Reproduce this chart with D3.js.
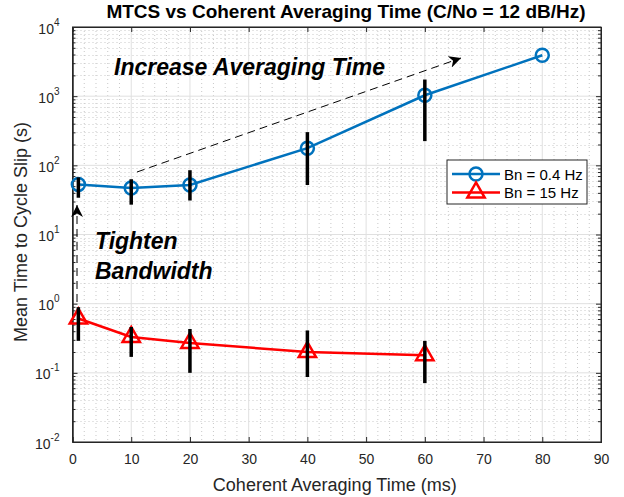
<!DOCTYPE html>
<html>
<head>
<meta charset="utf-8">
<script src="https://cdn.jsdelivr.net/npm/d3@7"></script>
<style>
  body { margin: 0; background: #fff; }
  text { font-family: "Liberation Sans", Arial, sans-serif; }
</style>
</head>
<body>
<script>
    // chart data
    var xTimes = [1, 10, 20, 40, 60, 80];
    var blueMean = [53, 47, 52, 177, 1030, 3900];
    var blueLow = [34, 27, 31, 52, 224, null];
    var blueHigh = [67, 63, 85, 302, 1740, null];

    var redTimes = [1, 10, 20, 40, 60];
    var redMean = [0.61, 0.33, 0.27, 0.20, 0.18];
    var redLow = [0.29, 0.17, 0.10, 0.087, 0.071];
    var redHigh = [0.89, 0.46, 0.43, 0.41, 0.29];

    var xTicks = [0, 10, 20, 30, 40, 50, 60, 70, 80, 90];
    var yExps = [-2, -1, 0, 1, 2, 3, 4];
    var legendNames = ['Bn = 0.4 Hz', 'Bn = 15 Hz'];

    var width = 624;
    var height = 497;
    // plot box edges (window.top is reserved, so pTop etc.)
    var pLeft = 72.5, pRight = 601, pTop = 27, pBottom = 442;
    var axisColor = '#262626';

    var svg = d3.select('body').append('svg')
        .attr('width', width)
        .attr('height', height);

    var xScale = d3.scaleLinear().domain([0, 90]).range([pLeft, pRight]);
    var yScale = d3.scaleLog().domain([1e-2, 1e4]).range([pBottom, pTop]);

    // minor grid (dotted)
    var minorX = d3.range(0, 91, 2).filter(d => d % 10 != 0);
    var minorY = [];
    yExps.slice(0, -1).forEach(e => {
        for (var k = 2; k <= 9; k++) minorY.push(k * Math.pow(10, e));
    });

    var grid = svg.append('g');
    grid.selectAll('.mx').data(minorX).enter().append('line')
        .attr('x1', d => xScale(d)).attr('x2', d => xScale(d))
        .attr('y1', pTop).attr('y2', pBottom)
        .attr('stroke', '#c8c8c8').attr('stroke-width', 1)
        .attr('stroke-dasharray', '1,3');
    grid.selectAll('.my').data(minorY).enter().append('line')
        .attr('x1', pLeft).attr('x2', pRight)
        .attr('y1', d => Math.round(yScale(d)) + 0.5).attr('y2', d => Math.round(yScale(d)) + 0.5)
        .attr('stroke', '#c8c8c8').attr('stroke-width', 1)
        .attr('stroke-dasharray', '1,3');

    // major grid
    grid.selectAll('.gx').data(xTicks).enter().append('line')
        .attr('x1', d => xScale(d)).attr('x2', d => xScale(d))
        .attr('y1', pTop).attr('y2', pBottom)
        .attr('stroke', '#e0e0e0').attr('stroke-width', 1);
    grid.selectAll('.gy').data(yExps).enter().append('line')
        .attr('x1', pLeft).attr('x2', pRight)
        .attr('y1', d => yScale(Math.pow(10, d))).attr('y2', d => yScale(Math.pow(10, d)))
        .attr('stroke', '#e0e0e0').attr('stroke-width', 1);

    // axes
    var xAxis = d3.axisBottom(xScale).tickValues(xTicks).tickSize(-5).tickPadding(12);
    var gx = svg.append('g')
        .attr('transform', 'translate(0,' + pBottom + ')')
        .call(xAxis);
    gx.selectAll('text').attr('font-size', 14).attr('fill', axisColor)
        .style('font-family', '"Liberation Sans", Arial, sans-serif');

    svg.append('g')
        .attr('transform', 'translate(0,' + pTop + ')')
        .call(d3.axisTop(xScale).tickValues(xTicks).tickSize(-5).tickFormat(''));

    var yMajor = yExps.map(e => Math.pow(10, e));
    var gy = svg.append('g')
        .attr('transform', 'translate(' + pLeft + ',0)')
        .call(d3.axisLeft(yScale).tickValues(yMajor).tickSize(-5).tickPadding(8).tickFormat(''));
    gy.selectAll('.tick').each(function(d) {
        var t = d3.select(this).append('text')
            .attr('x', -13).attr('y', 6)
            .attr('text-anchor', 'end')
            .attr('fill', axisColor)
            .attr('font-size', 14);
        t.append('tspan').text('10');
        t.append('tspan').attr('dy', -8).attr('font-size', 10).text(Math.round(Math.log10(d)));
    });
    svg.append('g')
        .attr('transform', 'translate(' + pLeft + ',0)')
        .call(d3.axisLeft(yScale).tickValues(minorY).tickSize(-3).tickFormat(''));

    svg.append('g')
        .attr('transform', 'translate(' + pRight + ',0)')
        .call(d3.axisRight(yScale).tickValues(yMajor).tickSize(-5).tickFormat(''));
    svg.append('g')
        .attr('transform', 'translate(' + pRight + ',0)')
        .call(d3.axisRight(yScale).tickValues(minorY).tickSize(-3).tickFormat(''));

    svg.selectAll('.domain').attr('stroke', axisColor);
    svg.selectAll('.tick line').attr('stroke', axisColor);

    // box outline
    svg.append('rect')
        .attr('x', pLeft).attr('y', pTop)
        .attr('width', pRight - pLeft).attr('height', pBottom - pTop)
        .attr('fill', 'none').attr('stroke', axisColor).attr('stroke-width', 1);

    // series lines
    var line = d3.line().x(d => xScale(d[0])).y(d => yScale(d[1]));
    var blueData = xTimes.map((x, i) => [x, blueMean[i]]);
    var redData = redTimes.map((x, i) => [x, redMean[i]]);

    svg.append('path').datum(blueData).attr('d', line)
        .attr('fill', 'none').attr('stroke', '#0072BD').attr('stroke-width', 2.5);
    svg.append('path').datum(redData).attr('d', line)
        .attr('fill', 'none').attr('stroke', '#FF0000').attr('stroke-width', 2.5);

    // markers
    svg.selectAll('.bm').data(blueData).enter().append('circle')
        .attr('cx', d => xScale(d[0])).attr('cy', d => yScale(d[1]))
        .attr('r', 6.5).attr('fill', 'none')
        .attr('stroke', '#0072BD').attr('stroke-width', 2.5);

    var tri = d3.symbol().type(d3.symbolTriangle).size(130);
    svg.selectAll('.rm').data(redData).enter().append('path')
        .attr('d', tri)
        .attr('transform', d => 'translate(' + xScale(d[0]) + ',' + yScale(d[1]) + ')')
        .attr('fill', 'none').attr('stroke', '#FF0000').attr('stroke-width', 2.5);

    // error bars
    var bars = [];
    xTimes.forEach((x, i) => { if (blueLow[i] != null) bars.push([x, blueLow[i], blueHigh[i]]); });
    redTimes.forEach((x, i) => bars.push([x, redLow[i], redHigh[i]]));
    svg.selectAll('.eb').data(bars).enter().append('line')
        .attr('x1', d => xScale(d[0])).attr('x2', d => xScale(d[0]))
        .attr('y1', d => yScale(d[1])).attr('y2', d => yScale(d[2]))
        .attr('stroke', '#000').attr('stroke-width', 3.5);

    // annotations
    svg.append('defs').append('marker')
        .attr('id', 'arrow')
        .attr('viewBox', '0 0 10 10')
        .attr('refX', 10).attr('refY', 5)
        .attr('markerWidth', 12).attr('markerHeight', 12)
        .attr('markerUnits', 'userSpaceOnUse')
        .attr('orient', 'auto')
        .append('path')
        .attr('d', 'M0,0 L10,5 L0,10 L3,5 Z')
        .attr('fill', '#000');

    svg.append('line')
        .attr('x1', 137).attr('y1', 172).attr('x2', 461).attr('y2', 58)
        .attr('stroke', '#000').attr('stroke-width', 1)
        .attr('stroke-dasharray', '8,5')
        .attr('marker-end', 'url(#arrow)');
    svg.append('line')
        .attr('x1', 77).attr('y1', 302).attr('x2', 77).attr('y2', 205)
        .attr('stroke', '#000').attr('stroke-width', 1)
        .attr('stroke-dasharray', '8,5')
        .attr('marker-end', 'url(#arrow)');

    var note = (x, y, s) => svg.append('text')
        .attr('x', x).attr('y', y)
        .attr('font-size', 23).attr('font-weight', 'bold').attr('font-style', 'italic')
        .attr('fill', '#000').text(s);
    note(114, 75, 'Increase Averaging Time');
    note(95, 249, 'Tighten');
    note(95, 279, 'Bandwidth');

    // legend
    var lg = svg.append('g');
    lg.append('rect')
        .attr('x', 447).attr('y', 160).attr('width', 140).attr('height', 44)
        .attr('fill', '#fff').attr('stroke', axisColor).attr('stroke-width', 1);
    var legendColors = ['#0072BD', '#FF0000'];
    legendNames.forEach((name, i) => {
        var yy = 174 + i * 18.5;
        lg.append('line').attr('x1', 452).attr('x2', 500).attr('y1', yy).attr('y2', yy)
            .attr('stroke', legendColors[i]).attr('stroke-width', 2.5);
        if (i == 0) {
            lg.append('circle').attr('cx', 476).attr('cy', yy).attr('r', 6.5)
                .attr('fill', 'none').attr('stroke', legendColors[i]).attr('stroke-width', 2.5);
        } else {
            lg.append('path').attr('d', tri).attr('transform', 'translate(476,' + yy + ')')
                .attr('fill', 'none').attr('stroke', legendColors[i]).attr('stroke-width', 2.5);
        }
        lg.append('text').attr('x', 504).attr('y', yy + 5.5)
            .attr('font-size', 15).attr('fill', '#000').text(name);
    });

    // titles
    svg.append('text')
        .attr('x', 346).attr('y', 18)
        .attr('text-anchor', 'middle')
        .attr('font-size', 19).attr('font-weight', 'bold').attr('fill', '#000')
        .text('MTCS vs Coherent Averaging Time (C/No = 12 dB/Hz)');
    svg.append('text')
        .attr('x', (pLeft + pRight) / 2 - 2).attr('y', 491)
        .attr('text-anchor', 'middle')
        .attr('font-size', 18).attr('fill', axisColor)
        .text('Coherent Averaging Time (ms)');
    svg.append('text')
        .attr('transform', 'translate(27,' + 232 + ') rotate(-90)')
        .attr('text-anchor', 'middle')
        .attr('font-size', 18).attr('fill', axisColor)
        .text('Mean Time to Cycle Slip (s)');
</script>
</body>
</html>
